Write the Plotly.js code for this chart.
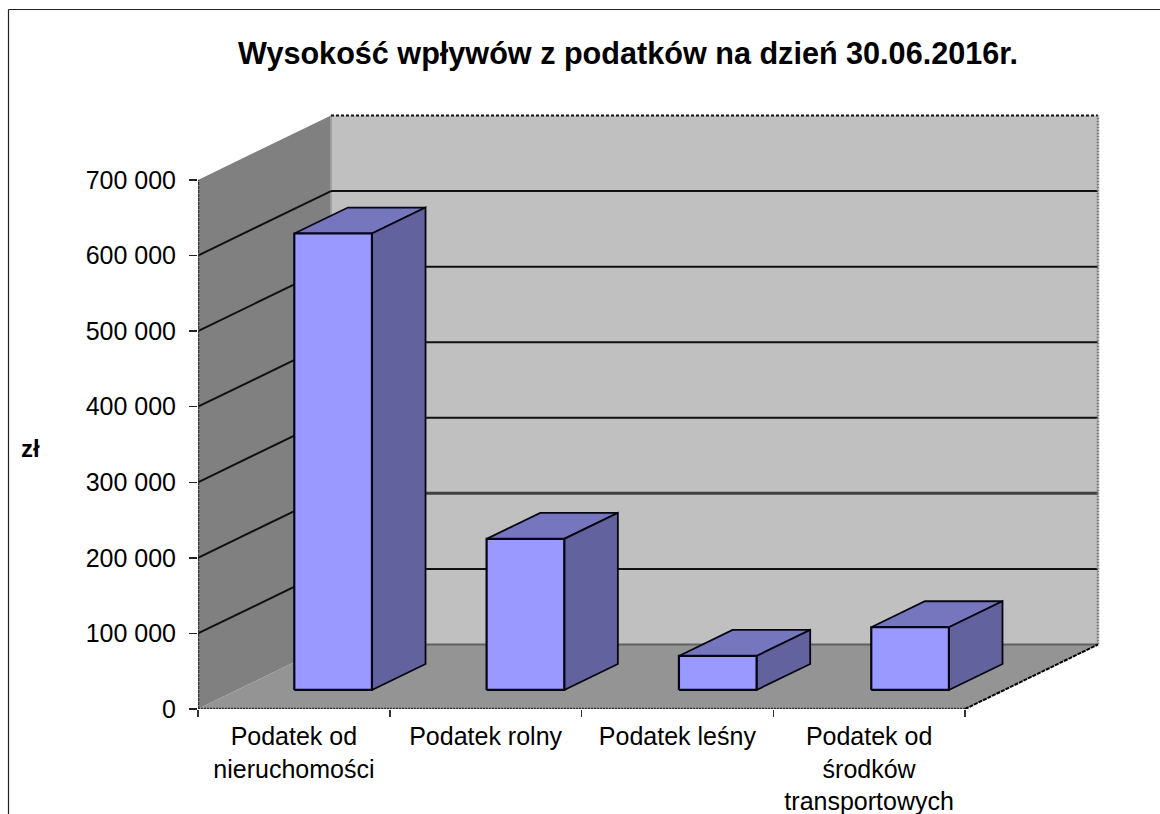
<!DOCTYPE html>
<html><head><meta charset="utf-8">
<script src="https://cdn.plot.ly/plotly-3.0.1.min.js"></script>
<style>html,body{margin:0;padding:0;background:#fff;overflow:hidden}</style>
</head><body><div id="chart" style="width:1160px;height:814px"></div>
<script>
const categories = ["Podatek od<br>nieruchomości","Podatek rolny","Podatek leśny","Podatek od<br>środków<br>transportowych"];
const values = [604000, 200000, 45000, 83000];
const yTicks = [0,100000,200000,300000,400000,500000,600000,700000];
const yTickText = ["0","100 000","200 000","300 000","400 000","500 000","600 000","700 000"];
const title = "Wysokość wpływów z podatków na dzień 30.06.2016r.";
const yTitle = "zł";

// Plot area holds the whole oblique box; the front plane uses these pixel scales.
const W = 1160, H = 814, L = 198, R = 1102, T = 108, B = 709;
const pxX = (965 - L) / 4, pxY = (B - 180) / 700000;
const DX = 133 / pxX, DY = 64.5 / pxY;
const P = (x, y, d) => [x + d * DX, y + d * DY];
const poly = (pts, fill, line, width, dash) => ({
  type: 'scatter', mode: line ? 'lines' : 'none', cliponaxis: false, hoverinfo: 'skip',
  x: pts.map(p => p[0]), y: pts.map(p => p[1]),
  fill: fill ? 'toself' : 'none', fillcolor: fill || undefined,
  line: line ? {color: line, width: width || 1, dash: dash || 'solid'} : undefined
});
const closed = pts => pts.concat([pts[0]]);
const yMax = yTicks[yTicks.length - 1];

const traces = [];
// walls and floor
traces.push(poly(closed([P(0,0,1),P(4,0,1),P(4,yMax,1),P(0,yMax,1)]), '#C0C0C0'));
traces.push(poly(closed([P(0,0,0),P(0,0,1),P(0,yMax,1),P(0,yMax,0)]), '#808080'));
traces.push(poly(closed([P(0,0,0),P(4,0,0),P(4,0,1),P(0,0,1)]), '#949494'));
// back-wall left shade, grid lines
traces.push(poly([P(0,0,1),P(0,yMax,1)], null, '#A0A0A0', 2));
yTicks.slice(1, -1).forEach(v => {
  traces.push(poly([P(0,v,0),P(0,v,1)], null, '#111', 2));
  traces.push(poly([P(0,v,1),P(4,v,1)], null, v === 200000 ? '#404040' : '#111', v === 200000 ? 3 : 2));
});
traces.push(poly([P(0,0,1),P(4,0,1)], null, '#606060', 2));
// frame edges of the walls
traces.push(poly([P(0,yMax,1),P(4,yMax,1)], null, '#111', 2, '3px,2px'));
traces.push(poly([P(4,0,1),P(4,yMax,1)], null, '#808080', 2.5, '2px,1px'));
traces.push(poly([P(4,0,0),P(4,0,1)], null, '#000', 2, '4px,1px'));
traces.push(poly([P(0,0,0),P(0,yMax,0)], null, '#333', 2.5, '3px,1px'));
traces.push(poly([P(0,0,0),P(4,0,0)], null, '#333', 2.5, '2px,1px'));
// bars
const d0 = 0.295, d1 = 0.698, bw = 0.405, gap = (1 - bw) / 2, edge = '#050514';
values.forEach((v, i) => {
  const a = i + gap + i * 0.003, b = a + bw;
  traces.push(poly(closed([P(a,v,d0),P(b,v,d0),P(b,v,d1),P(a,v,d1)]), '#7676BE', edge, 1.8));
  traces.push(poly(closed([P(b,0,d0),P(b,0,d1),P(b,v,d1),P(b,v,d0)]), '#62629F', edge, 1.8));
  traces.push(poly(closed([P(a,0,d0),P(b,0,d0),P(b,v,d0),P(a,v,d0)]), '#9999FF', edge, 2.2));
});

const px = v => (v - L) / (R - L), py = v => (B - v) / (B - T);
const layout = {
  width: W, height: H, showlegend: false, hovermode: false,
  paper_bgcolor: '#fff', plot_bgcolor: 'rgba(0,0,0,0)',
  margin: {l: L, r: W - R, t: T, b: H - B, pad: 0},
  font: {family: '"Liberation Sans", Arial, sans-serif', color: '#000'},
  title: {text: '<b>' + title + '</b>', x: 628 / W, xref: 'container', xanchor: 'center',
          y: 1 - 53 / H, yref: 'container', yanchor: 'middle',
          font: {size: 30.6, color: '#000'}},
  xaxis: {range: [0, (R - L) / pxX], showgrid: false, zeroline: false, showline: false,
          tickmode: 'array', tickvals: [0.5,1.5,2.5,3.5], ticktext: categories, ticks: '',
          tickfont: {size: 25}, ticklabelstandoff: 10, tickangle: 0,
          minor: {tickmode: 'array', tickvals: [0,1,2,3,4], ticks: 'outside', ticklen: 7, tickcolor: '#333', tickwidth: 1.5, showgrid: false}},
  yaxis: {range: [0, (B - T) / pxY], showgrid: false, zeroline: false, showline: false,
          tickmode: 'array', tickvals: yTicks, ticktext: yTickText,
          ticks: 'outside', ticklen: 8, tickcolor: '#222', tickwidth: 1.5,
          tickfont: {size: 25}, ticklabelstandoff: 8},
  shapes: [
    {type: 'line', xref: 'paper', yref: 'paper', x0: px(8.5), x1: px(1160), y0: py(9.5), y1: py(9.5), line: {color: '#222', width: 1.2}},
    {type: 'line', xref: 'paper', yref: 'paper', x0: px(8.5), x1: px(8.5), y0: py(9.5), y1: py(814), line: {color: '#222', width: 1.2}}
  ],
  annotations: [
    {text: '<b>' + yTitle + '</b>', xref: 'paper', yref: 'paper', x: px(30), y: py(449),
     xanchor: 'center', yanchor: 'middle', showarrow: false, font: {size: 24, color: '#000'}}
  ]
};
Plotly.newPlot('chart', traces, layout, {displayModeBar: false, staticPlot: true});
</script></body></html>
